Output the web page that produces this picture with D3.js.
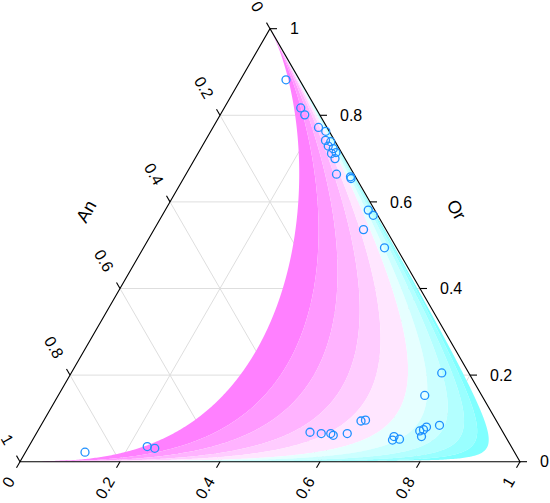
<!DOCTYPE html>
<html>
<head>
<meta charset="utf-8">
<script src="https://cdn.jsdelivr.net/npm/d3@7"></script>
<style>
  body { margin: 0; background: #fff; }
  text { font-family: "Liberation Sans", Arial, Helvetica, sans-serif; fill: #000; }
</style>
</head>
<body>
<svg id="chart" width="550" height="503"></svg>
<script>
// feldspar compositions (fractions)
const an = [0.027, 0.030, 0.030, 0.017, 0.007, 0.018, 0.009, 0.019, 0.012, 0.021,
            0.011, 0.020, 0.035, 0.010, 0.011, 0.013, 0.009, 0.045, 0.024, 0.054,
            0.114, 0.119, 0.147, 0.156, 0.165, 0.168, 0.223, 0.230, 0.215, 0.271,
            0.261, 0.386, 0.365, 0.346, 0.343, 0.313, 0.859, 0.728, 0.715];
const ab = [0.091, 0.153, 0.169, 0.211, 0.230, 0.240, 0.252, 0.252, 0.265, 0.267,
            0.275, 0.280, 0.301, 0.332, 0.335, 0.406, 0.422, 0.419, 0.482, 0.741,
            0.733, 0.797, 0.773, 0.770, 0.764, 0.774, 0.719, 0.720, 0.733, 0.635,
            0.643, 0.546, 0.570, 0.589, 0.596, 0.622, 0.119, 0.237, 0.254];
const or = [0.882, 0.817, 0.801, 0.772, 0.763, 0.742, 0.739, 0.729, 0.723, 0.712,
            0.714, 0.700, 0.664, 0.658, 0.654, 0.581, 0.569, 0.536, 0.494, 0.205,
            0.153, 0.084, 0.080, 0.074, 0.071, 0.058, 0.058, 0.050, 0.052, 0.094,
            0.096, 0.068, 0.065, 0.065, 0.061, 0.065, 0.022, 0.035, 0.031];

// coloured surface: sum of weight * log(part) for An, Ab, Or, cut at these levels
const logWeights = [-1.565, 2.565, -1];
const contourLevels = [0.06, 0.91, 1.59, 2.31, 2.97, 3.87, 4.56, 5.4, 6.2, 7.0, 7.9];
const fillColours = ['#FF80FF', '#FF99FF', '#FFB3FF', '#FFCCFF', '#FFE6FF',
                     '#E6FFFF', '#CCFFFF', '#B3FFFF', '#99FFFF', '#80FFFF'];

const tickValues = [0, 0.2, 0.4, 0.6, 0.8, 1];
const tickLabels = ['0', '0.2', '0.4', '0.6', '0.8', '1'];
const gridValues = [0.2, 0.4, 0.6, 0.8];
const leftTitle = 'An';
const rightTitle = 'Or';

const svg = d3.select('#chart');

const xScale = d3.scaleLinear().domain([0, 1]).range([20, 520]);
const yScale = d3.scaleLinear().domain([0, 1]).range([461.7, 461.7 - 500 * Math.sqrt(3) / 2]);

// (An, Ab, Or) -> pixel
function pos(a, b, c) {
  return [xScale(b + c / 2), yScale(c)];
}
// pixel -> (An, Ab, Or), kept just inside the triangle
function comp(px, py) {
  const e = 1e-4;
  const c = Math.max(yScale.invert(py), e);
  const b = Math.max(xScale.invert(px) - c / 2, e);
  const a = Math.max(1 - b - c, e);
  const s = a + b + c;
  return [a / s, b / s, c / s];
}
function surface(p) {
  return d3.sum(p, (v, i) => logWeights[i] * Math.log(v));
}

// grid
const gridG = svg.append('g').attr('stroke', '#dedede').attr('stroke-width', 1);
gridValues.forEach(v => {
  [[pos(1 - v, 0, v), pos(0, 1 - v, v)],
   [pos(v, 1 - v, 0), pos(v, 0, 1 - v)],
   [pos(1 - v, v, 0), pos(0, v, 1 - v)]].forEach(seg => {
    gridG.append('line')
      .attr('x1', seg[0][0]).attr('y1', seg[0][1])
      .attr('x2', seg[1][0]).attr('y2', seg[1][1]);
  });
});

// filled contours
const step = 1.5;
const x0 = 20, y0 = 28;
const nx = Math.ceil(500 / step) + 2, ny = Math.ceil(436 / step) + 2;
const values = new Float64Array(nx * ny);
for (let j = 0; j < ny; j++) {
  for (let i = 0; i < nx; i++) {
    values[j * nx + i] = surface(comp(x0 + i * step, y0 + j * step));
  }
}
const contours = d3.contours().size([nx, ny]).thresholds(contourLevels)(values);
const path = d3.geoPath(d3.geoTransform({
  point: function (x, y) { this.stream.point(x0 + (x - 0.5) * step, y0 + (y - 0.5) * step); }
}));

const corners = [pos(1, 0, 0), pos(0, 1, 0), pos(0, 0, 1)];
svg.append('clipPath').attr('id', 'tri')
  .append('polygon').attr('points', corners.map(d => d.join(',')).join(' '));

const bandG = svg.append('g').attr('clip-path', 'url(#tri)');
fillColours.forEach((col, k) => {
  bandG.append('path')
    .attr('d', (path(contours[k]) || '') + (path(contours[k + 1]) || ''))
    .attr('fill', col)
    .attr('fill-rule', 'evenodd');
});

// triangle
svg.append('polygon')
  .attr('points', corners.map(d => d.join(',')).join(' '))
  .attr('fill', 'none').attr('stroke', '#000').attr('stroke-width', 1.1);

// ticks and labels: bottom (Ab), right (Or), left (An)
const tickLen = 7;
const axes = [
  { at: v => pos(1 - v, v, 0), dir: [-0.5, Math.sqrt(3) / 2], anchor: 'end', rot: -60, gap: 19 },
  { at: v => pos(0, 1 - v, v), dir: [1, 0], anchor: 'start', rot: 0, gap: 20 },
  { at: v => pos(v, 0, 1 - v), dir: [-0.5, -Math.sqrt(3) / 2], anchor: 'end', rot: 60, gap: 21 }
];
const axisG = svg.append('g');
axes.forEach(ax => {
  tickValues.forEach((v, i) => {
    const p = ax.at(v);
    axisG.append('line')
      .attr('x1', p[0]).attr('y1', p[1])
      .attr('x2', p[0] + ax.dir[0] * tickLen).attr('y2', p[1] + ax.dir[1] * tickLen)
      .attr('stroke', '#000').attr('stroke-width', 1.1);
    axisG.append('text')
      .attr('transform', `translate(${p[0] + ax.dir[0] * ax.gap},${p[1] + ax.dir[1] * ax.gap}) rotate(${ax.rot})`)
      .attr('text-anchor', ax.anchor)
      .attr('dy', '0.35em')
      .attr('font-size', 16)
      .text(tickLabels[i]);
  });
});

const lm = pos(0.5, 0, 0.5), rm = pos(0, 0.5, 0.5);
svg.append('text')
  .attr('transform', `translate(${lm[0] - 0.866 * 68},${lm[1] - 0.5 * 68}) rotate(-60)`)
  .attr('text-anchor', 'middle').attr('dy', '0.35em').attr('font-size', 18)
  .text(leftTitle);
svg.append('text')
  .attr('transform', `translate(${rm[0] + 0.866 * 71},${rm[1] - 0.5 * 71}) rotate(60)`)
  .attr('text-anchor', 'middle').attr('dy', '0.35em').attr('font-size', 18)
  .text(rightTitle);

// points
svg.append('g').selectAll('circle')
  .data(an.map((d, i) => pos(an[i], ab[i], or[i])))
  .join('circle')
  .attr('cx', d => d[0]).attr('cy', d => d[1]).attr('r', 4)
  .attr('fill', 'none').attr('stroke', '#1E90FF').attr('stroke-width', 1.3);
</script>
</body>
</html>
